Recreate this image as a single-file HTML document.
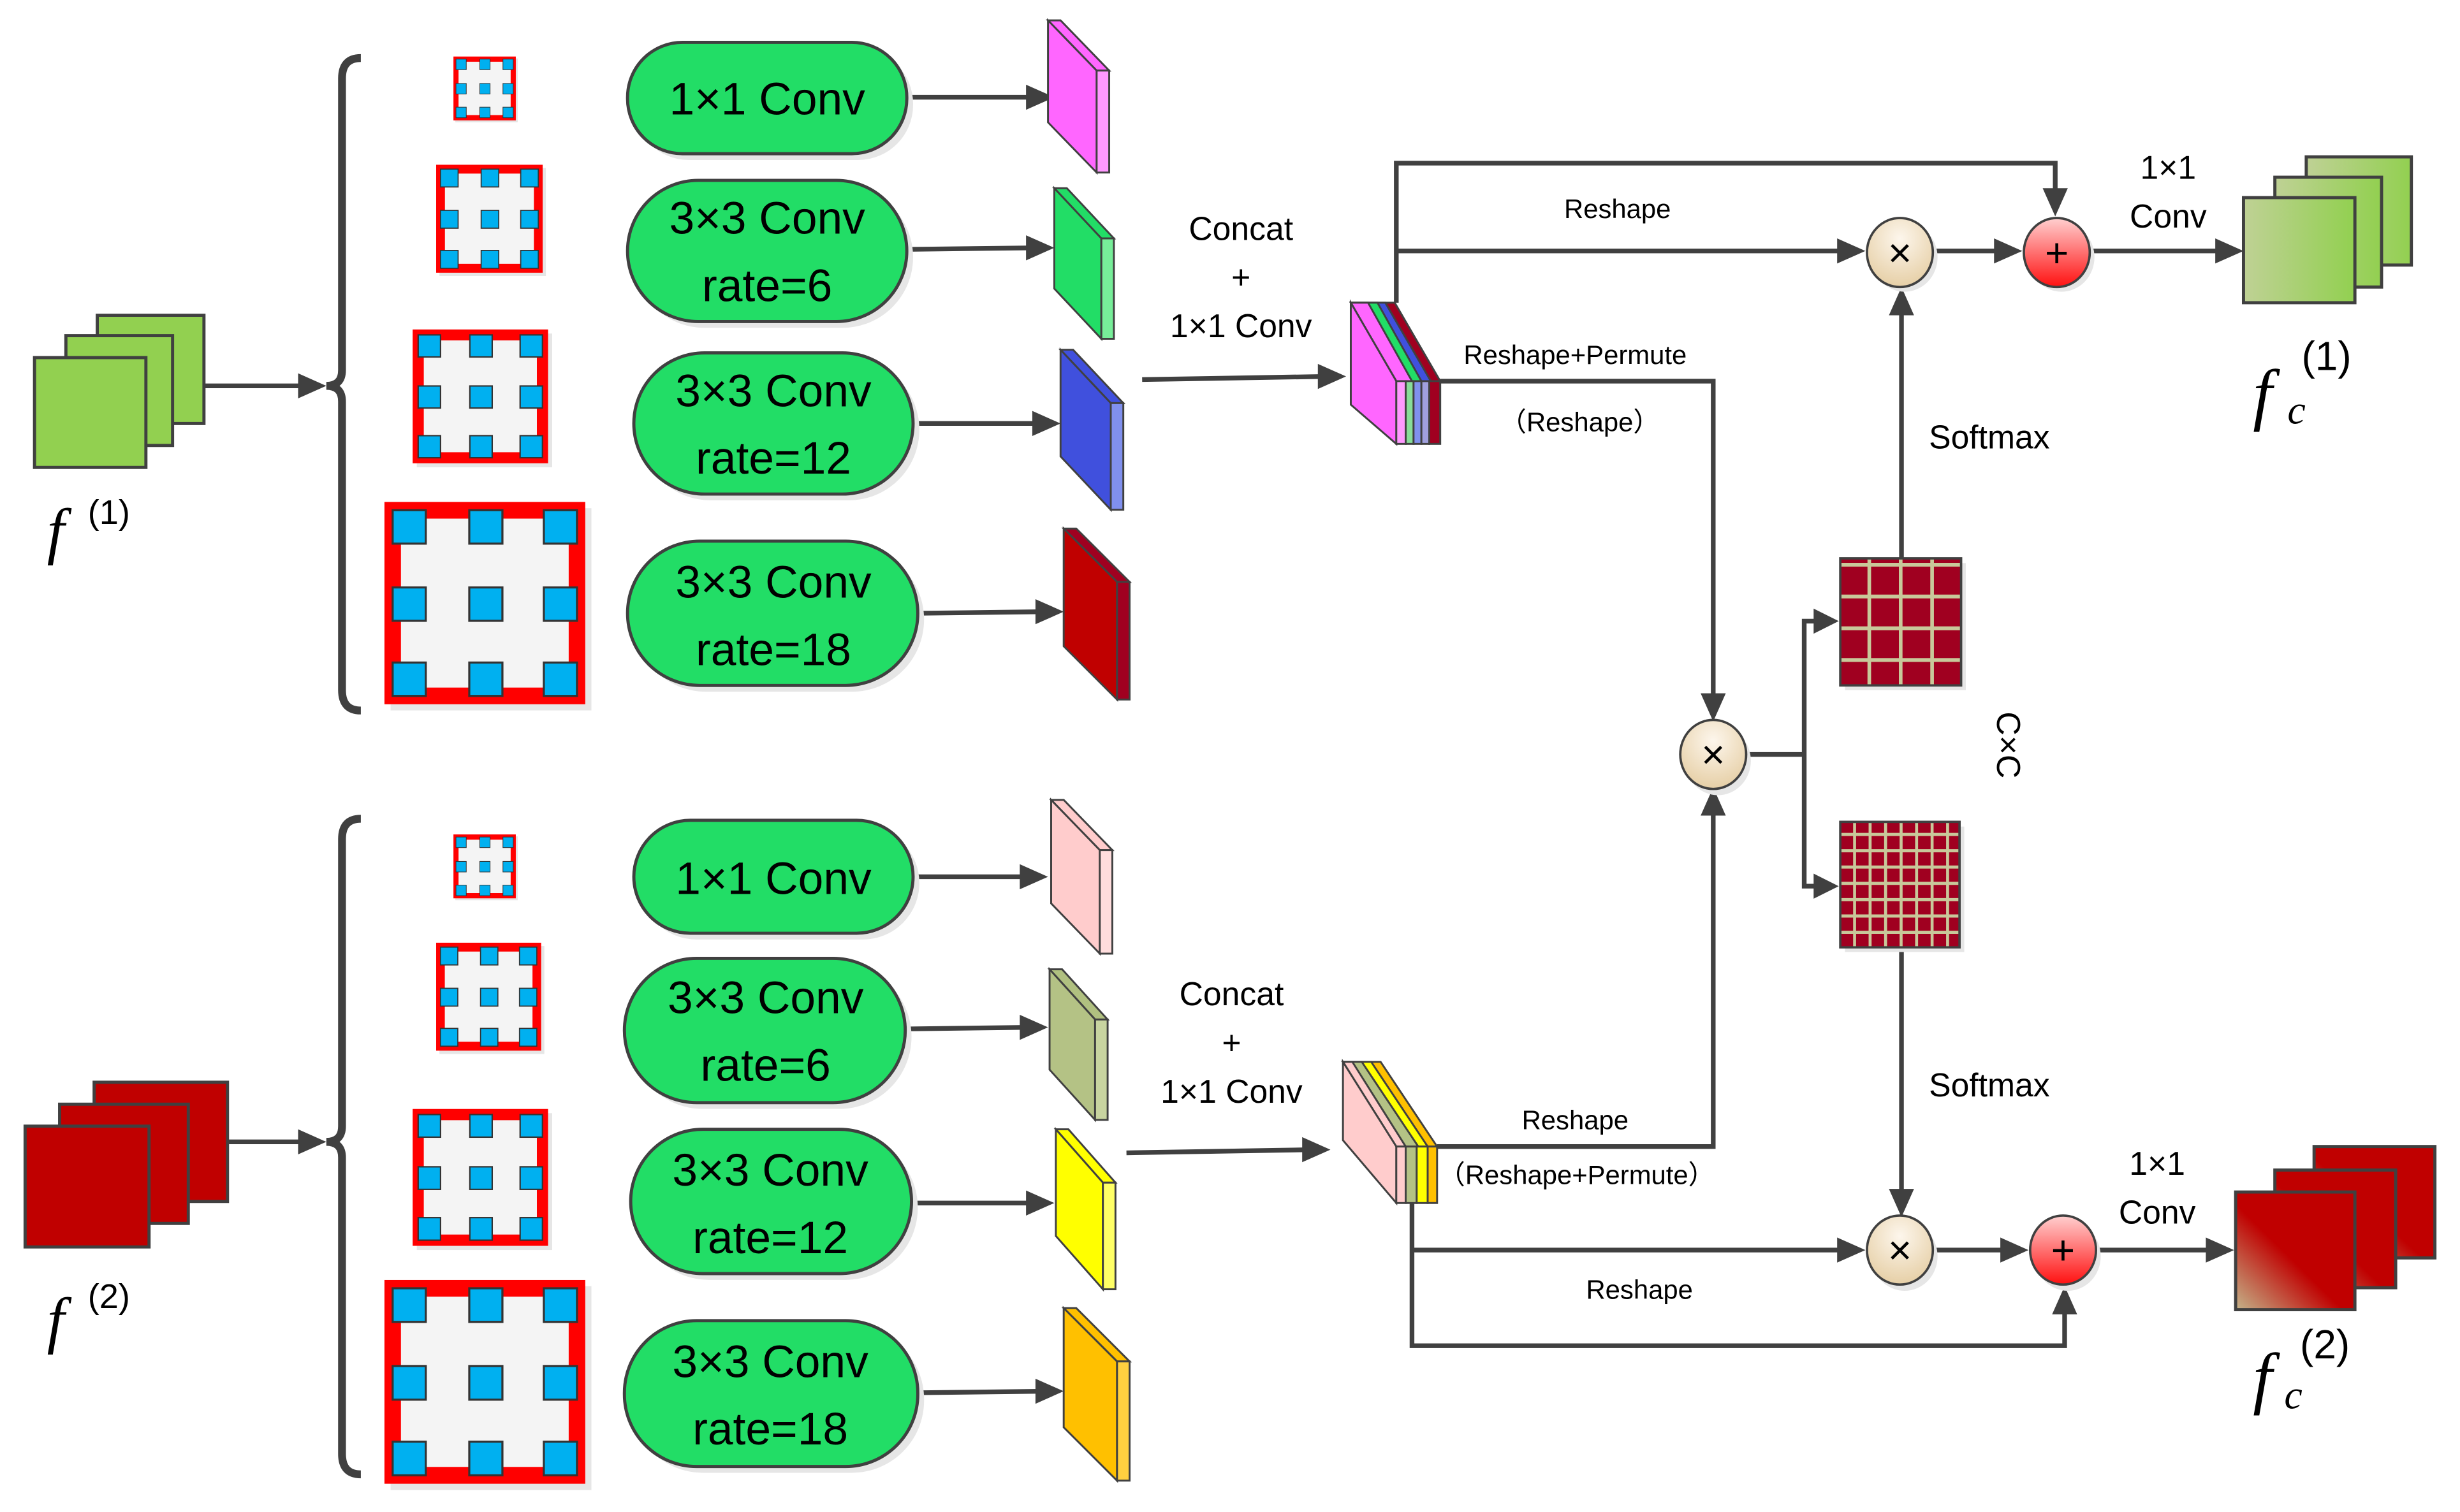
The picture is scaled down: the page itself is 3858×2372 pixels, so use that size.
<!DOCTYPE html>
<html><head><meta charset="utf-8"><style>
html,body{margin:0;padding:0;background:#fff;}
svg{display:block;}
text{font-family:"Liberation Sans",sans-serif;fill:#000;}
.pt{font-size:29px;}
.lb{font-size:17px;}
.lm{font-size:21px;}
.mt{font-family:"Liberation Serif",serif;font-style:italic;}
</style></head><body>
<svg width="3858" height="2372" viewBox="0 0 1568 964" preserveAspectRatio="none" xmlns="http://www.w3.org/2000/svg">
<defs>
<marker id="ah" viewBox="0 0 10 10" refX="9" refY="5" markerWidth="7" markerHeight="7" markerUnits="userSpaceOnUse" orient="auto">
</marker>
<symbol id="flt" viewBox="0 0 100 100" preserveAspectRatio="none">
<rect x="3" y="3" width="97" height="97" fill="#e6e6e6"/>
<rect x="0" y="0" width="97" height="97" fill="#ff0000"/>
<rect x="8" y="8" width="81" height="81" fill="#f4f4f4"/>
<g fill="#00b0f0" stroke="#333" stroke-width="1">
<rect x="4" y="4" width="16" height="16"/><rect x="41" y="4" width="16" height="16"/><rect x="77" y="4" width="16" height="16"/>
<rect x="4" y="41" width="16" height="16"/><rect x="41" y="41" width="16" height="16"/><rect x="77" y="41" width="16" height="16"/>
<rect x="4" y="77" width="16" height="16"/><rect x="41" y="77" width="16" height="16"/><rect x="77" y="77" width="16" height="16"/>
</g>
</symbol>
<symbol id="m4" viewBox="0 0 100 100" preserveAspectRatio="none">
<rect x="0" y="0" width="100" height="100" fill="#a00020"/>
<g stroke="#c8c89a" stroke-width="3">
<line x1="24" y1="0" x2="24" y2="100"/><line x1="50" y1="0" x2="50" y2="100"/><line x1="76" y1="0" x2="76" y2="100"/>
<line x1="0" y1="5" x2="100" y2="5"/><line x1="0" y1="30" x2="100" y2="30"/><line x1="0" y1="55" x2="100" y2="55"/><line x1="0" y1="80" x2="100" y2="80"/>
</g>
</symbol>
<symbol id="m8" viewBox="0 0 100 100" preserveAspectRatio="none">
<rect x="0" y="0" width="100" height="100" fill="#a00020"/>
<g stroke="#c8c89a" stroke-width="2.5">
<line x1="12" y1="0" x2="12" y2="100"/><line x1="25" y1="0" x2="25" y2="100"/><line x1="38" y1="0" x2="38" y2="100"/><line x1="51" y1="0" x2="51" y2="100"/><line x1="64" y1="0" x2="64" y2="100"/><line x1="77" y1="0" x2="77" y2="100"/><line x1="90" y1="0" x2="90" y2="100"/>
<line x1="0" y1="10" x2="100" y2="10"/><line x1="0" y1="23" x2="100" y2="23"/><line x1="0" y1="36" x2="100" y2="36"/><line x1="0" y1="49" x2="100" y2="49"/><line x1="0" y1="62" x2="100" y2="62"/><line x1="0" y1="75" x2="100" y2="75"/><line x1="0" y1="88" x2="100" y2="88"/>
</g>
</symbol>
<radialGradient id="gx" cx="0.5" cy="0.3" r="0.7"><stop offset="0" stop-color="#fdf6ec"/><stop offset="1" stop-color="#e6cfa6"/></radialGradient>
<linearGradient id="gp" x1="0" y1="0" x2="0" y2="1"><stop offset="0" stop-color="#ffd0d0"/><stop offset="1" stop-color="#ff1010"/></linearGradient>
<linearGradient id="gg" x1="0" y1="0" x2="1" y2="0"><stop offset="0" stop-color="#bfd195"/><stop offset="1" stop-color="#92d050"/></linearGradient>
<linearGradient id="gr" x1="0" y1="1" x2="1" y2="0"><stop offset="0" stop-color="#c4b48a"/><stop offset="0.45" stop-color="#c00000"/><stop offset="1" stop-color="#c00000"/></linearGradient>
</defs>

<g stroke="#404040" stroke-width="3" fill="none">
<!-- top section connectors -->
<line x1="130" y1="246" x2="195" y2="246"/>
<line x1="578" y1="62" x2="658" y2="62"/>
<line x1="578" y1="159" x2="660" y2="158"/>
<line x1="582" y1="270" x2="664" y2="270"/>
<line x1="585" y1="391" x2="666" y2="390"/>
<line x1="728" y1="242" x2="846" y2="240"/>
<polyline points="890,193 890,104 1310,104 1310,125"/>
<line x1="890" y1="160" x2="1175" y2="160"/>
<line x1="1232" y1="160" x2="1276" y2="160"/>
<line x1="1333" y1="160" x2="1416" y2="160"/>
<polyline points="918,243 1092,243 1092,447"/>
<polyline points="1113,481 1150,481"/>
<polyline points="1160,396 1150,396 1150,565 1160,565"/>
<line x1="1212" y1="356" x2="1212" y2="196"/>
<line x1="1212" y1="604" x2="1212" y2="764"/>
<!-- bottom -->
<line x1="145" y1="728" x2="195" y2="728"/>
<line x1="582" y1="559" x2="656" y2="559"/>
<line x1="577" y1="656" x2="656" y2="655"/>
<line x1="581" y1="767" x2="660" y2="767"/>
<line x1="585" y1="888" x2="666" y2="887"/>
<line x1="718" y1="735" x2="836" y2="733"/>
<polyline points="916,731 1092,731 1092,516"/>
<polyline points="900,767 900,858 1316,858 1316,832"/>
<line x1="900" y1="797" x2="1175" y2="797"/>
<line x1="1232" y1="797" x2="1280" y2="797"/>
<line x1="1337" y1="797" x2="1410" y2="797"/>
<!-- braces -->
<path d="M230,37 Q218,37 218,50 L218,236 Q218,246 208,246 Q218,246 218,256 L218,440 Q218,453 230,453" stroke-width="5"/>
<path d="M230,522 Q218,522 218,535 L218,718 Q218,728 208,728 Q218,728 218,738 L218,927 Q218,940 230,940" stroke-width="5"/>
</g>
<!-- arrowheads -->
<g fill="#404040">
<polygon points="208,246 190,238 190,254"/>
<polygon points="672,62 654,54 654,70"/>
<polygon points="672,158 654,150 654,166"/>
<polygon points="676,270 658,262 658,278"/>
<polygon points="678,390 660,382 660,398"/>
<polygon points="858,240 840,232 840,248"/>
<polygon points="1310,138 1302,120 1318,120"/>
<polygon points="1189,160 1171,152 1171,168"/>
<polygon points="1289,160 1271,152 1271,168"/>
<polygon points="1430,160 1412,152 1412,168"/>
<polygon points="1092,460 1084,442 1100,442"/>
<polygon points="1172,396 1156,388 1156,404"/>
<polygon points="1172,565 1156,557 1156,573"/>
<polygon points="1212,183 1204,201 1220,201"/>
<polygon points="1212,776 1204,758 1220,758"/>
<polygon points="208,728 190,720 190,736"/>
<polygon points="668,559 650,551 650,567"/>
<polygon points="668,655 650,647 650,663"/>
<polygon points="672,767 654,759 654,775"/>
<polygon points="678,887 660,879 660,895"/>
<polygon points="848,733 830,725 830,741"/>
<polygon points="1092,502 1084,520 1100,520"/>
<polygon points="1316,820 1308,838 1324,838"/>
<polygon points="1189,797 1171,789 1171,805"/>
<polygon points="1293,797 1275,789 1275,805"/>
<polygon points="1424,797 1406,789 1406,805"/>
</g>

<!-- input stacks -->
<g stroke="#404040" stroke-width="2">
<rect x="62" y="201" width="68" height="69" fill="#92d050"/>
<rect x="42" y="214" width="68" height="70" fill="#92d050"/>
<rect x="22" y="228" width="71" height="70" fill="#92d050"/>
<rect x="60" y="690" width="85" height="76" fill="#c00000"/>
<rect x="38" y="704" width="82" height="76" fill="#c00000"/>
<rect x="16" y="718" width="79" height="77" fill="#c00000"/>
</g>
<text x="30" y="352" class="mt" font-size="40">f</text><text x="56" y="334" font-family="Liberation Serif" font-size="22">(1)</text>
<text x="30" y="855" class="mt" font-size="40">f</text><text x="56" y="834" font-family="Liberation Serif" font-size="22">(2)</text>

<!-- filters -->
<use href="#flt" x="289" y="36" width="41" height="42"/>
<use href="#flt" x="278" y="105" width="70" height="71"/>
<use href="#flt" x="263" y="210" width="89" height="88"/>
<use href="#flt" x="245" y="320" width="132" height="133"/>
<use href="#flt" x="289" y="532" width="41" height="42"/>
<use href="#flt" x="278" y="601" width="69" height="71"/>
<use href="#flt" x="263" y="707" width="89" height="90"/>
<use href="#flt" x="245" y="816" width="132" height="134"/>

<!-- pills -->
<g stroke="#404040" stroke-width="2">
<rect x="404" y="31" width="178" height="71" rx="35" fill="#e6e6e6" stroke="none"/>
<rect x="400" y="27" width="178" height="71" rx="35" fill="#22dd66"/>
<rect x="404" y="119" width="178" height="90" rx="45" fill="#e6e6e6" stroke="none"/>
<rect x="400" y="115" width="178" height="90" rx="45" fill="#22dd66"/>
<rect x="408" y="229" width="178" height="90" rx="45" fill="#e6e6e6" stroke="none"/>
<rect x="404" y="225" width="178" height="90" rx="45" fill="#22dd66"/>
<rect x="404" y="349" width="185" height="92" rx="46" fill="#e6e6e6" stroke="none"/>
<rect x="400" y="345" width="185" height="92" rx="46" fill="#22dd66"/>
<rect x="408" y="527" width="178" height="72" rx="36" fill="#e6e6e6" stroke="none"/>
<rect x="404" y="523" width="178" height="72" rx="36" fill="#22dd66"/>
<rect x="402" y="615" width="179" height="92" rx="46" fill="#e6e6e6" stroke="none"/>
<rect x="398" y="611" width="179" height="92" rx="46" fill="#22dd66"/>
<rect x="406" y="724" width="179" height="92" rx="46" fill="#e6e6e6" stroke="none"/>
<rect x="402" y="720" width="179" height="92" rx="46" fill="#22dd66"/>
<rect x="402" y="846" width="187" height="93" rx="46" fill="#e6e6e6" stroke="none"/>
<rect x="398" y="842" width="187" height="93" rx="46" fill="#22dd66"/>
</g>
<g class="pt" text-anchor="middle">
<text x="489" y="73" class="pt">1×1 Conv</text>
<text x="489" y="149" class="pt">3×3 Conv</text><text x="489" y="192" class="pt">rate=6</text>
<text x="493" y="259" class="pt">3×3 Conv</text><text x="493" y="302" class="pt">rate=12</text>
<text x="493" y="381" class="pt">3×3 Conv</text><text x="493" y="424" class="pt">rate=18</text>
<text x="493" y="570" class="pt">1×1 Conv</text>
<text x="488" y="646" class="pt">3×3 Conv</text><text x="488" y="689" class="pt">rate=6</text>
<text x="491" y="756" class="pt">3×3 Conv</text><text x="491" y="799" class="pt">rate=12</text>
<text x="491" y="878" class="pt">3×3 Conv</text><text x="491" y="921" class="pt">rate=18</text>
</g>

<!-- prisms -->
<g stroke="#404040" stroke-width="1.2">
<polygon points="668,13 676,13 707,45 699,45" fill="#ff66ff"/>
<polygon points="668,13 699,45 699,110 668,78" fill="#ff66ff"/>
<rect x="699" y="45" width="8" height="65" fill="#ff99ff"/>
<polygon points="672,120 680,120 710,152 702,152" fill="#22dd66"/>
<polygon points="672,120 702,152 702,216 672,184" fill="#22dd66"/>
<rect x="702" y="152" width="8" height="64" fill="#77ee99"/>
<polygon points="676,223 684,223 716,257 708,257" fill="#4050dd"/>
<polygon points="676,223 708,257 708,325 676,291" fill="#4050dd"/>
<rect x="708" y="257" width="8" height="68" fill="#8090ee"/>
<polygon points="678,337 686,337 720,371 712,371" fill="#a00020"/>
<polygon points="678,337 712,371 712,446 678,412" fill="#c00000"/>
<rect x="712" y="371" width="8" height="75" fill="#a00020"/>
<polygon points="670,510 678,510 709,542 701,542" fill="#ffcccc"/>
<polygon points="670,510 701,542 701,608 670,576" fill="#ffcccc"/>
<rect x="701" y="542" width="8" height="66" fill="#ffdddd"/>
<polygon points="669,618 677,618 706,650 698,650" fill="#b0c080"/>
<polygon points="669,618 698,650 698,714 669,682" fill="#b4c285"/>
<rect x="698" y="650" width="8" height="64" fill="#c8d4a0"/>
<polygon points="673,720 681,720 711,754 703,754" fill="#ffff00"/>
<polygon points="673,720 703,754 703,822 673,788" fill="#ffff00"/>
<rect x="703" y="754" width="8" height="68" fill="#ffff66"/>
<polygon points="678,834 686,834 720,868 712,868" fill="#ffc000"/>
<polygon points="678,834 712,868 712,944 678,910" fill="#ffc000"/>
<rect x="712" y="868" width="8" height="76" fill="#ffd040"/>
</g>

<!-- concat stacks -->
<g stroke="#404040" stroke-width="1.2">
<polygon points="861,193 889,193 918,243 890,243" fill="#a00020"/>
<polygon points="861,193 883,193 912,243 890,243" fill="#4050dd"/>
<polygon points="861,193 878,193 906,243 890,243" fill="#22dd66"/>
<polygon points="861,193 872,193 900,243 890,243" fill="#ff66ff"/>
<polygon points="861,193 890,243 890,283 861,258" fill="#ff66ff"/>
<rect x="890" y="243" width="6" height="40" fill="#ff99ff"/>
<rect x="896" y="243" width="5" height="40" fill="#88dd99"/>
<rect x="901" y="243" width="5" height="40" fill="#8090ee"/>
<rect x="906" y="243" width="5" height="40" fill="#a0a0dd"/>
<rect x="911" y="243" width="7" height="40" fill="#a00020"/>
<polygon points="856,677 880,677 916,731 896,731" fill="#ffc000"/>
<polygon points="856,677 874,677 910,731 896,731" fill="#ffff00"/>
<polygon points="856,677 868,677 904,731 896,731" fill="#b4c285"/>
<polygon points="856,677 862,677 896,731 890,731" fill="#ffcccc"/>
<polygon points="856,677 890,731 890,767 856,727" fill="#ffcccc"/>
<rect x="890" y="731" width="6" height="36" fill="#ffcccc"/>
<rect x="896" y="731" width="7" height="36" fill="#b4c285"/>
<rect x="903" y="731" width="7" height="36" fill="#ffff00"/>
<rect x="910" y="731" width="6" height="36" fill="#ffc000"/>
</g>

<!-- matrices -->
<rect x="1176" y="359" width="77" height="81" fill="#e6e6e6"/>
<use href="#m4" x="1173" y="356" width="77" height="81"/>
<rect x="1173" y="356" width="77" height="81" fill="none" stroke="#404040" stroke-width="1.5"/>
<rect x="1176" y="527" width="76" height="80" fill="#e6e6e6"/>
<use href="#m8" x="1173" y="524" width="76" height="80"/>
<rect x="1173" y="524" width="76" height="80" fill="none" stroke="#404040" stroke-width="1.5"/>

<!-- circles -->
<g stroke="#404040" stroke-width="1.5">
<ellipse cx="1214" cy="164" rx="21" ry="22" fill="#e6e6e6" stroke="none"/>
<ellipse cx="1211" cy="161" rx="21" ry="22" fill="url(#gx)"/>
<ellipse cx="1314" cy="164" rx="21" ry="22" fill="#e6e6e6" stroke="none"/>
<ellipse cx="1311" cy="161" rx="21" ry="22" fill="url(#gp)"/>
<ellipse cx="1095" cy="485" rx="21" ry="22" fill="#e6e6e6" stroke="none"/>
<ellipse cx="1092" cy="481" rx="21" ry="22" fill="url(#gx)"/>
<ellipse cx="1214" cy="801" rx="21" ry="22" fill="#e6e6e6" stroke="none"/>
<ellipse cx="1211" cy="797" rx="21" ry="22" fill="url(#gx)"/>
<ellipse cx="1318" cy="801" rx="21" ry="22" fill="#e6e6e6" stroke="none"/>
<ellipse cx="1315" cy="797" rx="21" ry="22" fill="url(#gp)"/>
</g>
<g font-size="26" text-anchor="middle">
<text x="1211" y="170">×</text><text x="1311" y="170">+</text>
<text x="1092" y="490">×</text><text x="1211" y="806">×</text><text x="1315" y="806">+</text>
</g>

<!-- outputs -->
<g stroke="#404040" stroke-width="2">
<rect x="1470" y="100" width="67" height="69" fill="url(#gg)"/>
<rect x="1450" y="113" width="68" height="70" fill="url(#gg)"/>
<rect x="1430" y="126" width="71" height="67" fill="url(#gg)"/>
<rect x="1475" y="731" width="77" height="71" fill="url(#gr)"/>
<rect x="1450" y="746" width="77" height="75" fill="url(#gr)"/>
<rect x="1425" y="760" width="76" height="75" fill="url(#gr)"/>
</g>
<text x="1436" y="266" class="mt" font-size="44">f</text><text x="1458" y="270" class="mt" font-size="26">c</text><text x="1467" y="236" font-family="Liberation Serif" font-size="26">(1)</text>
<text x="1436" y="893" class="mt" font-size="44">f</text><text x="1456" y="898" class="mt" font-size="26">c</text><text x="1466" y="866" font-family="Liberation Serif" font-size="26">(2)</text>

<!-- labels -->
<g text-anchor="middle">
<text x="791" y="153" class="lm">Concat</text><text x="791" y="184" class="lm">+</text><text x="791" y="215" class="lm">1×1 Conv</text>
<text x="785" y="641" class="lm">Concat</text><text x="785" y="672" class="lm">+</text><text x="785" y="703" class="lm">1×1 Conv</text>
<text x="1031" y="139" class="lb">Reshape</text>
<text x="1004" y="232" class="lb">Reshape+Permute</text>
<text x="1007" y="275" class="lb">（Reshape）</text>
<text x="1268" y="286" class="lm">Softmax</text>
<text x="1268" y="699" class="lm">Softmax</text>
<text x="1382" y="114" class="lm">1×1</text><text x="1382" y="145" class="lm">Conv</text>
<text x="1375" y="749" class="lm">1×1</text><text x="1375" y="780" class="lm">Conv</text>
<text x="1004" y="720" class="lb">Reshape</text>
<text x="1005" y="755" class="lb">（Reshape+Permute）</text>
<text x="1045" y="828" class="lb">Reshape</text>
<text transform="translate(1273,475) rotate(90)" class="lm">C×C</text>
</g>
</svg>
</body></html>
